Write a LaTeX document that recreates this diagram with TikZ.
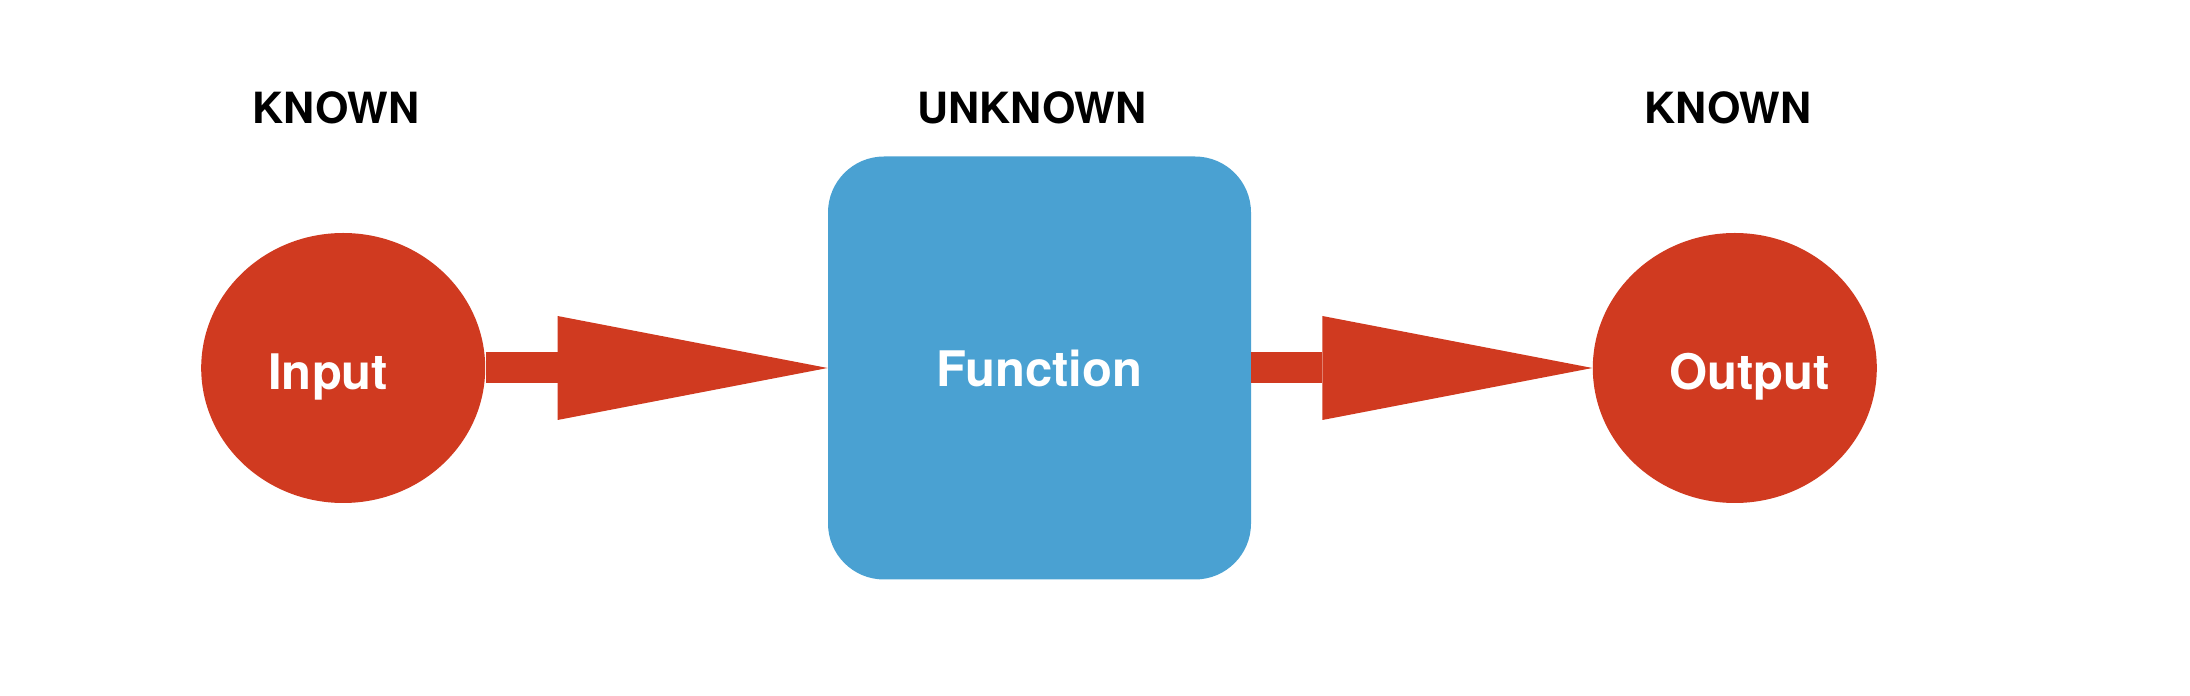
\documentclass[tikz,border=0pt]{standalone}
\usepackage{fontspec}
\setmainfont{TeX Gyre Heros}
\usetikzlibrary{arrows.meta}
\usetikzlibrary{shapes.geometric}
\usetikzlibrary{positioning}
\definecolor{inoutred}{RGB}{208,58,32}
\definecolor{funcblue}{RGB}{74,161,210}

\begin{document}
\begin{tikzpicture}[x=0.5pt,y=0.5pt,
  toplabel/.style={font=\fontsize{21.5}{24}\selectfont\bfseries,inner sep=0pt},
  blob/.style={ellipse,fill=inoutred,minimum width=142pt,minimum height=135pt,inner sep=0pt},
  blobtext/.style={text=white,font=\fontsize{24.5}{28}\selectfont\bfseries,inner sep=0pt},
  funcbox/.style={rectangle,rounded corners=28pt,fill=funcblue,minimum size=211.5pt,inner sep=0pt,
    text=white,font=\fontsize{24.5}{28}\selectfont\bfseries},
  fatarrow/.style={draw=inoutred,line width=15.5pt,-{Triangle[length=135pt,width=52pt,line width=0pt,fill=inoutred]}}]
\useasboundingbox (0,0) rectangle (2190,696);
\node[funcbox] (fn) at (1039.5,328) {Function};
\node[blob,left=171pt of fn,label={[blobtext,xshift=-7.5pt,yshift=-4.25pt]center:Input}] (in) {};
\node[blob,right=170.5pt of fn,label={[blobtext,xshift=7.5pt,yshift=-4.25pt]center:Output}] (out) {};
\node[toplabel] (knownin) at (336,588.5) {KNOWN};
\node[toplabel] (unknownfn) at (1032,588.5) {UNKNOWN};
\node[toplabel] (knownout) at (1728,588.5) {KNOWN};
\draw[fatarrow] (in.east) -- (fn.west);
\draw[fatarrow] (fn.east) -- (out.west);
\end{tikzpicture}
\end{document}
